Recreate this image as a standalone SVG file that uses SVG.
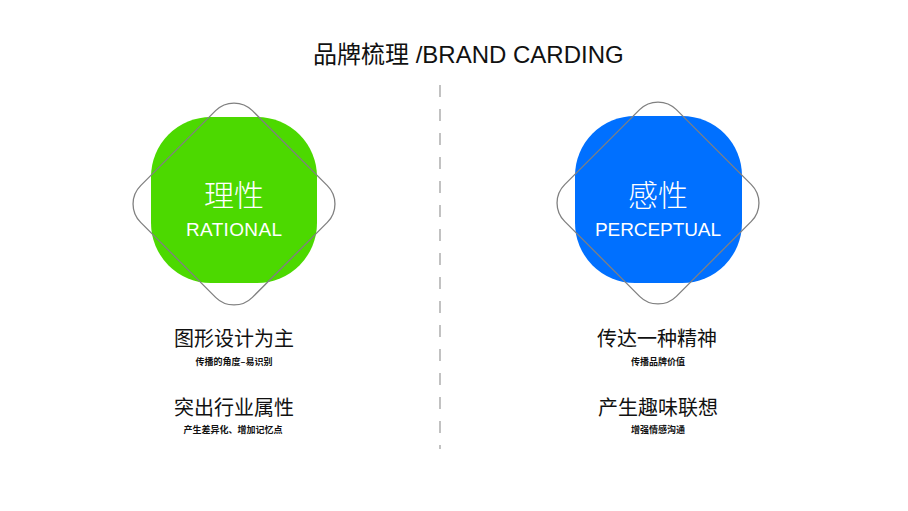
<svg xmlns="http://www.w3.org/2000/svg" width="908" height="511" viewBox="0 0 908 511">
  <style>
    text { font-family: "Liberation Sans", "Noto Sans CJK SC", sans-serif; }
    .title { font-size: 24px; fill: #111; }
    .cn { font-family: "Noto Sans CJK SC", sans-serif; font-size: 30px; font-weight: 300; fill: #fff; text-anchor: middle; }
    .en { font-size: 19px; fill: #fff; text-anchor: middle; }
    .head { font-family: "Noto Sans CJK SC", sans-serif; font-size: 20px; font-weight: 400; fill: #111; text-anchor: middle; }
    .sub { font-family: "Noto Sans CJK SC", sans-serif; font-size: 9px; font-weight: bold; fill: #111; text-anchor: middle; }
    .diamond { fill: none; stroke: #808080; stroke-width: 1.3; }
  </style>
  <rect width="908" height="511" fill="#fff"/>
  <text class="title" x="313" y="63">品牌梳理 /BRAND CARDING</text>

  <g id="divider">
    <line x1="440" y1="85" x2="440" y2="449" stroke="#999" stroke-width="1.2" stroke-dasharray="12 12"/>
  </g>

  <g id="rational">
    <rect x="151" y="117" width="166" height="166" rx="60" fill="#4cd900"/>
    <rect class="diamond" x="-79" y="-79" width="158" height="158" rx="26" transform="translate(234 204) rotate(45)"/>
    <text class="cn" x="234" y="206">理性</text>
    <text class="en" x="234" y="236" textLength="96" lengthAdjust="spacing">RATIONAL</text>
  </g>

  <g id="perceptual">
    <rect x="575" y="116" width="167" height="167" rx="60" fill="#0070ff"/>
    <rect class="diamond" x="-79" y="-79" width="158" height="158" rx="26" transform="translate(658 203) rotate(45)"/>
    <text class="cn" x="658" y="206">感性</text>
    <text class="en" x="658" y="236" textLength="126" lengthAdjust="spacing">PERCEPTUAL</text>
  </g>

  <g id="rational-text">
    <text class="head" x="234" y="346">图形设计为主</text>
    <text class="sub" x="234" y="365">传播的角度–易识别</text>
    <text class="head" x="234" y="415">突出行业属性</text>
    <text class="sub" x="233" y="433">产生差异化、增加记忆点</text>
  </g>

  <g id="perceptual-text">
    <text class="head" x="657" y="346">传达一种精神</text>
    <text class="sub" x="658" y="365">传播品牌价值</text>
    <text class="head" x="658" y="415">产生趣味联想</text>
    <text class="sub" x="658" y="433">增强情感沟通</text>
  </g>
</svg>
